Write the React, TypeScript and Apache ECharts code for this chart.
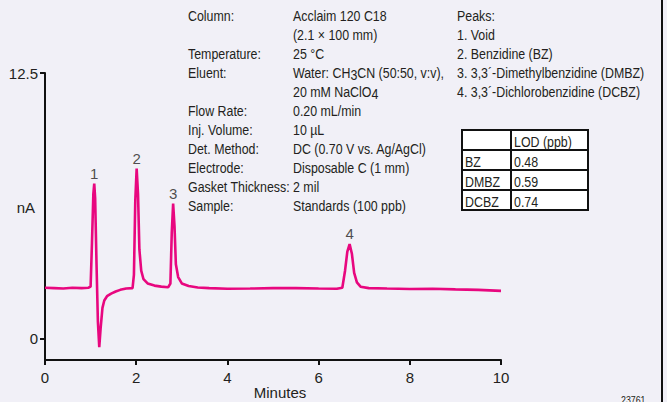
import React, { useEffect, useRef } from "react";
import * as echarts from "echarts";

// chromatogram trace: [minutes, nA]
const trace: [number, number][] = [
  [0.0, 2.4], [0.2, 2.38], [0.4, 2.36], [0.6, 2.4], [0.8, 2.38], [0.95, 2.4], [1.0, 2.45],
  [1.03, 4.5], [1.06, 6.8], [1.08, 7.3], [1.1, 6.6], [1.13, 3.5], [1.16, 0.8], [1.19, -0.4],
  [1.22, 0.5], [1.26, 1.45], [1.3, 1.8], [1.36, 2.0], [1.45, 2.12], [1.55, 2.22], [1.65, 2.3],
  [1.78, 2.36], [1.92, 2.38], [1.95, 3.0], [1.98, 6.5], [2.01, 8.0], [2.04, 6.8], [2.07, 4.2],
  [2.11, 3.2], [2.16, 2.8], [2.25, 2.6], [2.4, 2.5], [2.55, 2.45], [2.7, 2.42], [2.75, 2.6],
  [2.78, 5.0], [2.81, 6.36], [2.84, 5.3], [2.87, 3.5], [2.92, 2.9], [3.0, 2.6], [3.15, 2.48],
  [3.35, 2.41], [3.6, 2.38], [4.0, 2.35], [4.5, 2.36], [5.0, 2.38], [5.5, 2.38], [6.0, 2.36],
  [6.4, 2.35], [6.52, 2.4], [6.58, 3.2], [6.63, 4.1], [6.68, 4.45], [6.73, 4.0], [6.78, 3.1],
  [6.84, 2.65], [6.92, 2.45], [7.1, 2.38], [7.5, 2.36], [8.0, 2.34], [8.5, 2.35], [9.0, 2.32],
  [9.5, 2.3], [10.0, 2.25],
];

const peakNames = ["1", "2", "3", "4"];
const peakTimes = [1.08, 2.01, 2.81, 6.68];
const peakHeights = [7.3, 8.0, 6.36, 4.45];

const xTicks = [0, 2, 4, 6, 8, 10];
const yTicks = [0, 12.5];

const conditionLabels = [
  "Column:", "", "Temperature:", "Eluent:", "", "Flow Rate:", "Inj. Volume:",
  "Det. Method:", "Electrode:", "Gasket Thickness:", "Sample:",
];
const conditionValues = [
  "Acclaim 120 C18", "(2.1 \u00d7 100 mm)", "25 \u00b0C", "Water: CH{sub|3}CN (50:50, v:v),",
  "20 mM NaClO{sub|4}", "0.20 mL/min", "10 \u00b5L", "DC (0.70 V vs. Ag/AgCl)",
  "Disposable C (1 mm)", "2 mil", "Standards (100 ppb)",
];
const peakLines = [
  "Peaks:", "1. Void", "2. Benzidine (BZ)", "3. 3,3\u00b4-Dimethylbenzidine (DMBZ)",
  "4. 3,3\u00b4-Dichlorobenzidine (DCBZ)",
];
const lodHeader = ["", "LOD (ppb)"];
const lodNames = ["BZ", "DMBZ", "DCBZ"];
const lodValues = ["0.48", "0.59", "0.74"];

const FONT = "'Liberation Sans', Arial, sans-serif";
const TXT = "#231f20";
const PINK = "#e8077f";
const BG = "#f1f0f7";
const SX = 0.8;

export default function App() {
  const ref = useRef<HTMLDivElement>(null);
  useEffect(() => {
    document.body.style.margin = "0";
    document.body.style.background = BG;
    const chart = echarts.init(ref.current!, null, { renderer: "svg" });

    const graphics: any[] = [];
    const lineH = 19;
    const top0 = 15;
    const txt = (x: number, y: number, text: string, extra: any = {}) => ({
      type: "text", x, y, scaleX: SX, scaleY: 1,
      style: {
        text, fill: TXT, fontFamily: FONT, fontSize: 15.5, verticalAlign: "middle", ...extra,
      },
    });
    conditionLabels.forEach((t, i) => {
      if (!t) return;
      graphics.push(txt(188, top0 + i * lineH, t));
    });
    conditionValues.forEach((t, i) => {
      graphics.push(
        txt(293, top0 + i * lineH, t, {
          rich: { sub: { fontFamily: FONT, fontSize: 15.5, fill: TXT, padding: [5, 0, 0, 0] } },
        })
      );
    });
    peakLines.forEach((t, i) => {
      graphics.push(txt(457, top0 + i * lineH, t));
    });

    // LOD table
    const tx = [462, 511, 588];
    const ty = [130, 150, 170, 190, 210];
    graphics.push({
      type: "rect", shape: { x: tx[0], y: ty[0], width: tx[2] - tx[0], height: ty[4] - ty[0] },
      style: { fill: "#ffffff", stroke: "#111", lineWidth: 2 },
    });
    for (let r = 1; r < 4; r++) {
      graphics.push({
        type: "line", shape: { x1: tx[0], y1: ty[r], x2: tx[2], y2: ty[r] },
        style: { stroke: "#111", lineWidth: 2 },
      });
    }
    graphics.push({
      type: "line", shape: { x1: tx[1], y1: ty[0], x2: tx[1], y2: ty[4] },
      style: { stroke: "#111", lineWidth: 2 },
    });
    const rows = [lodHeader, ...lodNames.map((n, i) => [n, lodValues[i]])];
    rows.forEach((row, r) => {
      row.forEach((cell, c) => {
        if (!cell) return;
        graphics.push(txt(tx[c] + 3, (ty[r] + ty[r + 1]) / 2 + 1, cell));
      });
    });

    // right border
    graphics.push({
      type: "line", shape: { x1: 662, y1: 0, x2: 662, y2: 402 },
      style: { stroke: "#111", lineWidth: 2 },
    });
    graphics.push({
      type: "text", x: 621, y: 395, scaleX: SX,
      style: { text: "23761", fill: TXT, fontFamily: FONT, fontSize: 11 },
    });

    chart.setOption({
      animation: false,
      backgroundColor: BG,
      grid: { left: 45, right: 166, top: 73, bottom: 42, outerBoundsMode: "none", containLabel: false },
      xAxis: {
        type: "value", min: 0, max: 10, interval: 2,
        name: "Minutes", nameLocation: "middle", nameGap: 25, nameMoveOverlap: false,
        nameTextStyle: { fontFamily: FONT, fontSize: 15, color: TXT, padding: [0, 0, 0, 14] },
        axisLine: { onZero: false, lineStyle: { color: "#111", width: 2 } },
        axisTick: { show: true, length: 5, lineStyle: { color: "#111", width: 2 }, customValues: xTicks },
        axisLabel: { fontFamily: FONT, fontSize: 15, color: TXT, margin: 10, customValues: xTicks },
        splitLine: { show: false },
      },
      yAxis: {
        type: "value", min: -1, max: 12.5,
        name: "{n|nA}", nameLocation: "middle", nameGap: 10, nameRotate: 0, nameMoveOverlap: false,
        nameTextStyle: {
          fontFamily: FONT, fontSize: 15, color: TXT, align: "right",
          rich: { n: { fontFamily: FONT, fontSize: 15, color: TXT, padding: [0, 0, 19, 0] } },
        },
        axisLine: { show: true, lineStyle: { color: "#111", width: 2 } },
        axisTick: { show: true, length: 5, lineStyle: { color: "#111", width: 2 }, customValues: yTicks },
        axisLabel: { fontFamily: FONT, fontSize: 15, color: TXT, margin: 7, customValues: yTicks },
        splitLine: { show: false },
      },
      series: [
        {
          type: "line", data: trace, showSymbol: false, symbol: "none",
          lineStyle: { color: PINK, width: 2.6 }, z: 3,
        },
        {
          type: "scatter", symbolSize: 0, z: 4,
          data: peakTimes.map((t, i) => ({ value: [t, peakHeights[i]], name: peakNames[i] })),
          label: {
            show: true, position: "top", distance: 3, formatter: (p: any) => p.name,
            fontFamily: FONT, fontSize: 15, color: TXT,
          },
        },
      ],
      graphic: graphics,
    });
    return () => chart.dispose();
  }, []);
  return (
    <div
      ref={ref}
      style={{ position: "absolute", left: 0, top: 0, width: 667, height: 402, background: BG }}
    />
  );
}
